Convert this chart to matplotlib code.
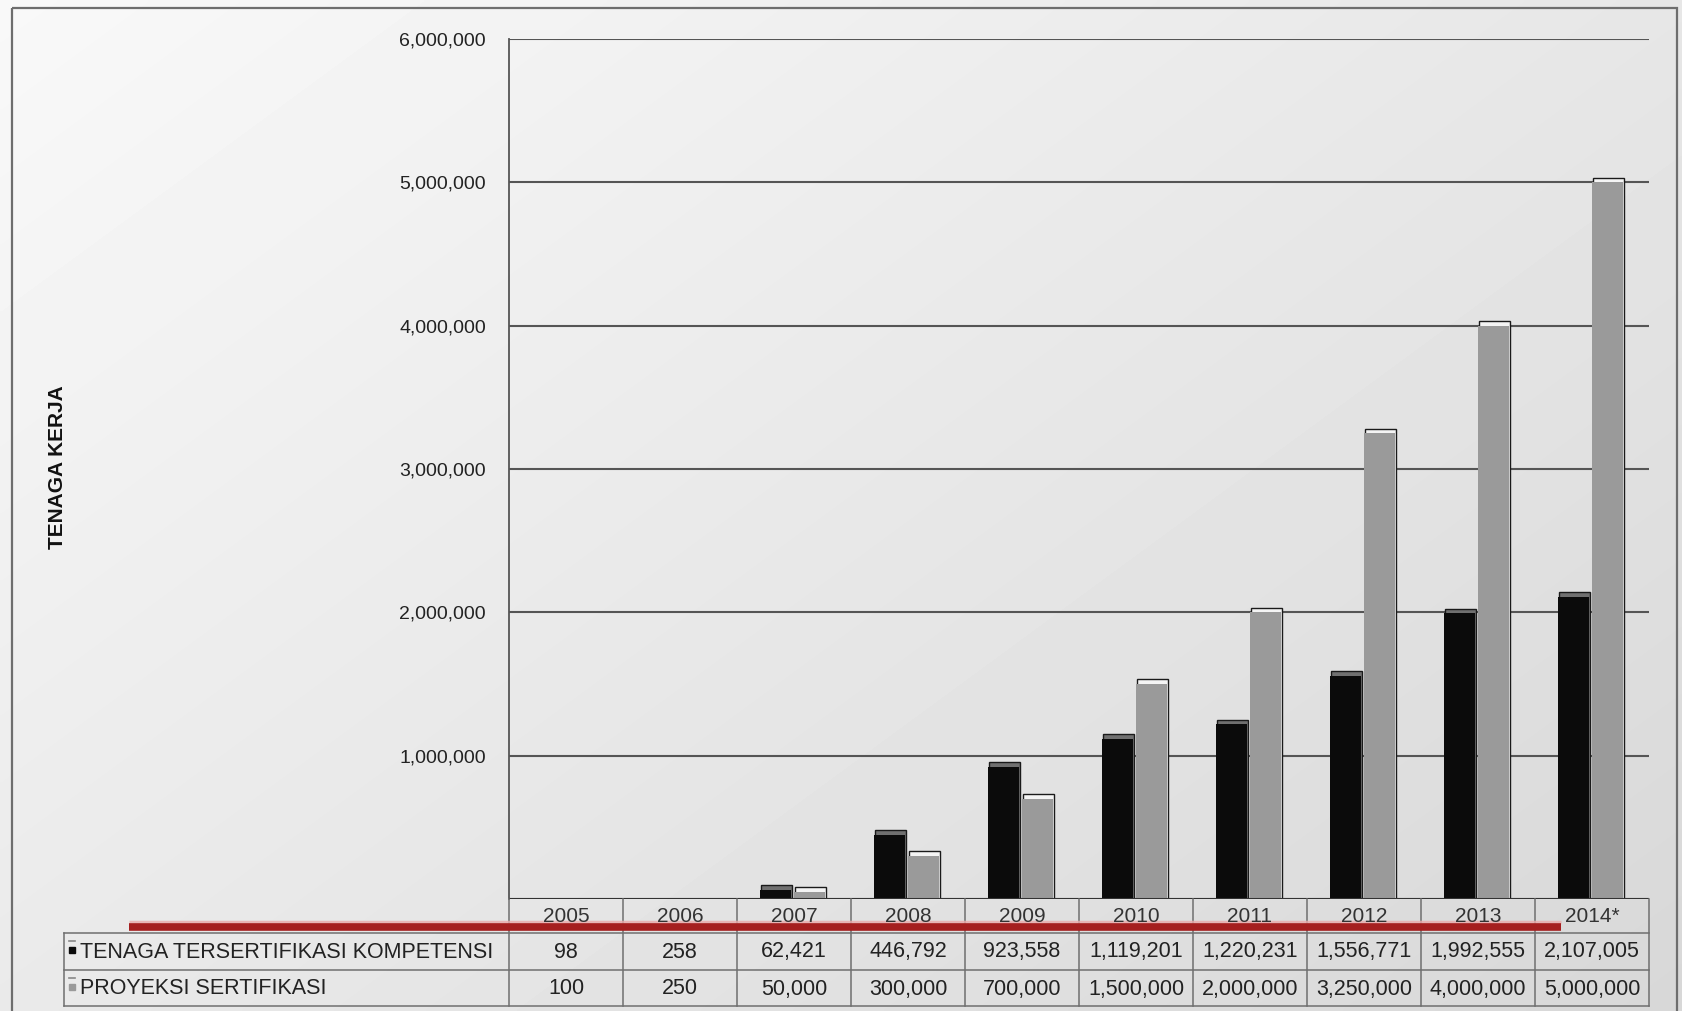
import numpy as np
import matplotlib.pyplot as plt
import matplotlib.transforms as mtransforms
from matplotlib.patches import Rectangle

# data sertifikasi tenaga kerja per tahun
tahun = ["2005", "2006", "2007", "2008", "2009", "2010", "2011", "2012", "2013", "2014*"]
tersertifikasi = [98, 258, 62421, 446792, 923558, 1119201, 1220231, 1556771, 1992555, 2107005]
proyeksi = [100, 250, 50000, 300000, 700000, 1500000, 2000000, 3250000, 4000000, 5000000]
nama_seri = ["TENAGA TERSERTIFIKASI KOMPETENSI", "PROYEKSI SERTIFIKASI"]
y_ticks = [0, 1000000, 2000000, 3000000, 4000000, 5000000, 6000000]

warna_seri = ["#0b0b0b", "#9a9a9a"]
warna_atas = ["#707070", "#f4f4f4"]

W, H = 1682, 1011
plt.rcParams["font.family"] = ["Liberation Sans", "DejaVu Sans"]

fig = plt.figure(figsize=(W / 100, H / 100), dpi=100)


def kotak_px(l, t, r, b):
    return [l / W, 1 - b / H, (r - l) / W, (b - t) / H]


# latar belakang gradasi abu-abu
bg = fig.add_axes([0, 0, 1, 1], zorder=-5)
gy, gx = np.mgrid[0:1:300j, 0:1:500j]
bg.imshow(0.975 - 0.13 * (0.55 * gx + 0.45 * gy), cmap="gray", vmin=0, vmax=1,
          aspect="auto", interpolation="bilinear")
bg.set_axis_off()

# grafik batang
ax = fig.add_axes(kotak_px(509, 39, 1649, 899))
ax.patch.set_alpha(0)
x = np.arange(len(tahun))
ax.set_xlim(-0.5, len(tahun) - 0.5)
ax.set_ylim(0, 6000000)
ax.set_yticks(y_ticks)
ax.set_yticklabels(["" if v == 0 else f"{v:,}" for v in y_ticks], fontsize=14, color="#222222")
ax.tick_params(axis="y", length=0, pad=16.5)
ax.set_xticks([])
ax.grid(axis="y", color="#555555", lw=1.5, zorder=1)
for s in ["top", "right", "bottom"]:
    ax.spines[s].set_visible(False)
ax.spines["left"].set_color("#555555")
ax.spines["left"].set_linewidth(1.3)
ax.axhline(0, color="#333333", lw=2.2, zorder=4)

lebar = 0.275
geser = [-0.165, 0.135]
tebal = 32000  # efek 3D di atas batang
for k, nilai in enumerate([tersertifikasi, proyeksi]):
    nilai = np.array(nilai)
    xs = x + geser[k]
    ada = nilai > 1000
    ax.bar(xs[ada] + 0.012, nilai[ada] + tebal, width=lebar, color=warna_atas[k],
           edgecolor="#1a1a1a", linewidth=1.0, zorder=2)
    ax.bar(xs, nilai, width=lebar, color=warna_seri[k], zorder=3)

fig.text(58 / W, 1 - 467 / H, "TENAGA KERJA", rotation=90, fontsize=15,
         fontweight="bold", ha="center", va="center", color="#111111")

# lapisan piksel untuk bingkai dan tabel data
ov = fig.add_axes([0, 0, 1, 1], zorder=5)
ov.set_xlim(0, W)
ov.set_ylim(H, 0)
ov.set_axis_off()
ov.patch.set_alpha(0)

ov.add_patch(Rectangle((12, 8), 1665, 1012, fill=False, ec="#6e6e6e", lw=1.6))

trans = mtransforms.blended_transform_factory(ax.transData, ov.transData)
garis = "#6f6f6f"
for yy in [933, 970, 1006]:
    ov.plot([64, 1649], [yy, yy], color=garis, lw=1.1)
ov.plot([64, 64], [933, 1006], color=garis, lw=1.1)
for i in range(len(tahun) + 1):
    ov.plot([i - 0.5, i - 0.5], [899, 1006], color=garis, lw=1.1, transform=trans)

for i, th in enumerate(tahun):
    ov.text(i, 917, th, transform=trans, ha="center", va="center", fontsize=15, color="#333333")
    ov.text(i, 952, f"{tersertifikasi[i]:,}", transform=trans, ha="center", va="center",
            fontsize=15.5, color="#222222")
    ov.text(i, 989, f"{proyeksi[i]:,}", transform=trans, ha="center", va="center",
            fontsize=15.5, color="#222222")

for baris, (nama, yy) in enumerate(zip(nama_seri, [952, 989])):
    ov.text(80, yy, nama, ha="left", va="center", fontsize=15.5, color="#222222")
    ov.add_patch(Rectangle((69, yy - 5), 6, 6, color=warna_seri[baris]))
    ov.plot([69, 75], [yy - 11, yy - 11], color="#888888", lw=1.2)

# garis merah melintang di baris tahun
ov.plot([129, 1561], [922, 922], color="#e9a9a9", lw=2.5, alpha=0.8, solid_capstyle="butt")
ov.plot([129, 1561], [927, 927], color="#a51f1f", lw=5.5, solid_capstyle="butt")

fig.savefig("out.png", dpi=100)
